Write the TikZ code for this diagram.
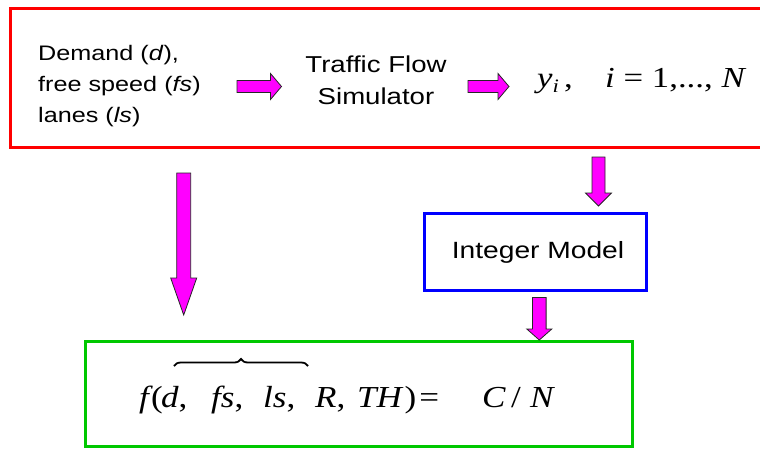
\documentclass[tikz,border=0pt]{standalone}
\usepackage{fontspec}
\setmainfont{Liberation Sans}
\newfontfamily\arialw[FakeStretch=1.2]{Liberation Sans}
\newfontfamily\timesw[FakeStretch=1.2]{Liberation Serif}
\newfontfamily\timesf[FakeStretch=1.15]{Liberation Serif}
\usetikzlibrary{calc,decorations.pathreplacing}
\definecolor{boxred}{RGB}{255,0,0}
\definecolor{boxblue}{RGB}{0,0,255}
\definecolor{boxgreen}{RGB}{0,200,0}
\definecolor{arrmag}{RGB}{255,0,255}
\tikzset{
  frame/.style={draw, line width=3pt, inner sep=0pt},
  blockarrow/.style={fill=arrmag, draw=black!85, line width=0.8pt, line join=miter},
  labeltext/.style={inner sep=0pt, font=\arialw\fontsize{21}{31}\selectfont},
  simtext/.style={inner sep=0pt, font=\arialw\fontsize{23}{32}\selectfont},
  mathrow/.style={inner sep=0pt, font=\timesw\fontsize{29}{30}\selectfont},
  formula/.style={inner sep=0pt, font=\timesf\fontsize{30.5}{34}\selectfont},
  bracestyle/.style={decorate, decoration={brace, amplitude=7pt}, line width=1.8pt},
}
% horizontal block arrow: tail, tip, shaft half width, head half width, head length
\newcommand\hblock[5]{\draw[blockarrow] let \p1=(#1), \p2=(#2) in
  (\x1,\y1+#3) -- (\x2-#5,\y1+#3) -- (\x2-#5,\y1+#4) -- (\x2,\y1) --
  (\x2-#5,\y1-#4) -- (\x2-#5,\y1-#3) -- (\x1,\y1-#3) -- cycle;}
% downward block arrow
\newcommand\vblock[5]{\draw[blockarrow] let \p1=(#1), \p2=(#2) in
  (\x1-#3,\y1) -- (\x1-#3,\y2+#5) -- (\x1-#4,\y2+#5) -- (\x1,\y2) --
  (\x1+#4,\y2+#5) -- (\x1+#3,\y2+#5) -- (\x1+#3,\y1) -- cycle;}
\begin{document}
\begin{tikzpicture}[x=1pt, y=-1pt]
\useasboundingbox (0,0) rectangle (760,448);
% boxes
\node[frame, draw=boxred, minimum width=770pt, minimum height=139pt] (top) at (395,77.5) {};
\node[frame, draw=boxblue, minimum width=222pt, minimum height=77pt] (im) at (535,251.5) {};
\node[inner sep=0pt, font=\arialw\fontsize{23.5}{26}\selectfont] (imt) at (538,252) {Integer Model};
\node[frame, draw=boxgreen, minimum width=547pt, minimum height=105pt] (res) at (358.5,393.5) {};
% top texts (base = last line)
\node[labeltext, align=left, anchor=base west] (inp) at (38,122)
  {Demand (\textit{d}),\\free speed (\textit{fs})\\lanes (\textit{ls})};
\node[simtext, align=center, anchor=base] (sim) at (376,104)
  {Traffic Flow\\Simulator};
\node[mathrow, anchor=base west] (yi) at (537,87)
  {\textit{y}\raisebox{-5pt}{\fontsize{19}{19}\selectfont\itshape i}\hspace{5pt},};
\node[mathrow, anchor=base west] (ir) at (605,87)
  {\textit{i} = 1,..., \textit{N}};
% formula pieces
\node[formula, anchor=base west] (fa) at (139,407) {\textit{f}};
\node[formula, anchor=base west] (fp) at (151,407) {(};
\node[formula, anchor=base west] (fq) at (161,407) {\textit{d},};
\node[formula, anchor=base west] (fb) at (211,407) {\textit{fs},};
\node[formula, anchor=base west] (fc) at (263,407) {\textit{ls},};
\node[formula, anchor=base west] (fd) at (315,407) {\textit{R},};
\node[formula, anchor=base west] (fe) at (357,407) {\textit{TH}\hspace{1pt})\hspace{3pt}=};
\node[formula, anchor=base west] (ff) at (482,407) {\textit{C}};
\node[formula, anchor=base west] (fg) at (511,407) {/};
\node[formula, anchor=base west] (fh) at (530,407) {\textit{N}};
\coordinate (b1) at (174,366);
\coordinate (b2) at (308,366);
\draw[bracestyle] (b1) -- (b2);
% arrow end points
\coordinate (a1s) at (237,86.5);  \coordinate (a1e) at (281.5,86.5);
\coordinate (a2s) at (468,86.5);  \coordinate (a2e) at (509,86.5);
\coordinate (a3s) at (183.7,173); \coordinate (a3e) at (183.7,315);
\coordinate (a4s) at (598.5,157); \coordinate (a4e) at (598.5,206);
\coordinate (a5s) at (539.3,297.5); \coordinate (a5e) at (539.3,340);
\hblock{a1s}{a1e}{6pt}{13pt}{11pt}
\hblock{a2s}{a2e}{6pt}{13pt}{11pt}
\vblock{a3s}{a3e}{7pt}{13pt}{37pt}
\vblock{a4s}{a4e}{6.5pt}{13pt}{13pt}
\vblock{a5s}{a5e}{6.8pt}{12.5pt}{11pt}
\end{tikzpicture}
\end{document}
